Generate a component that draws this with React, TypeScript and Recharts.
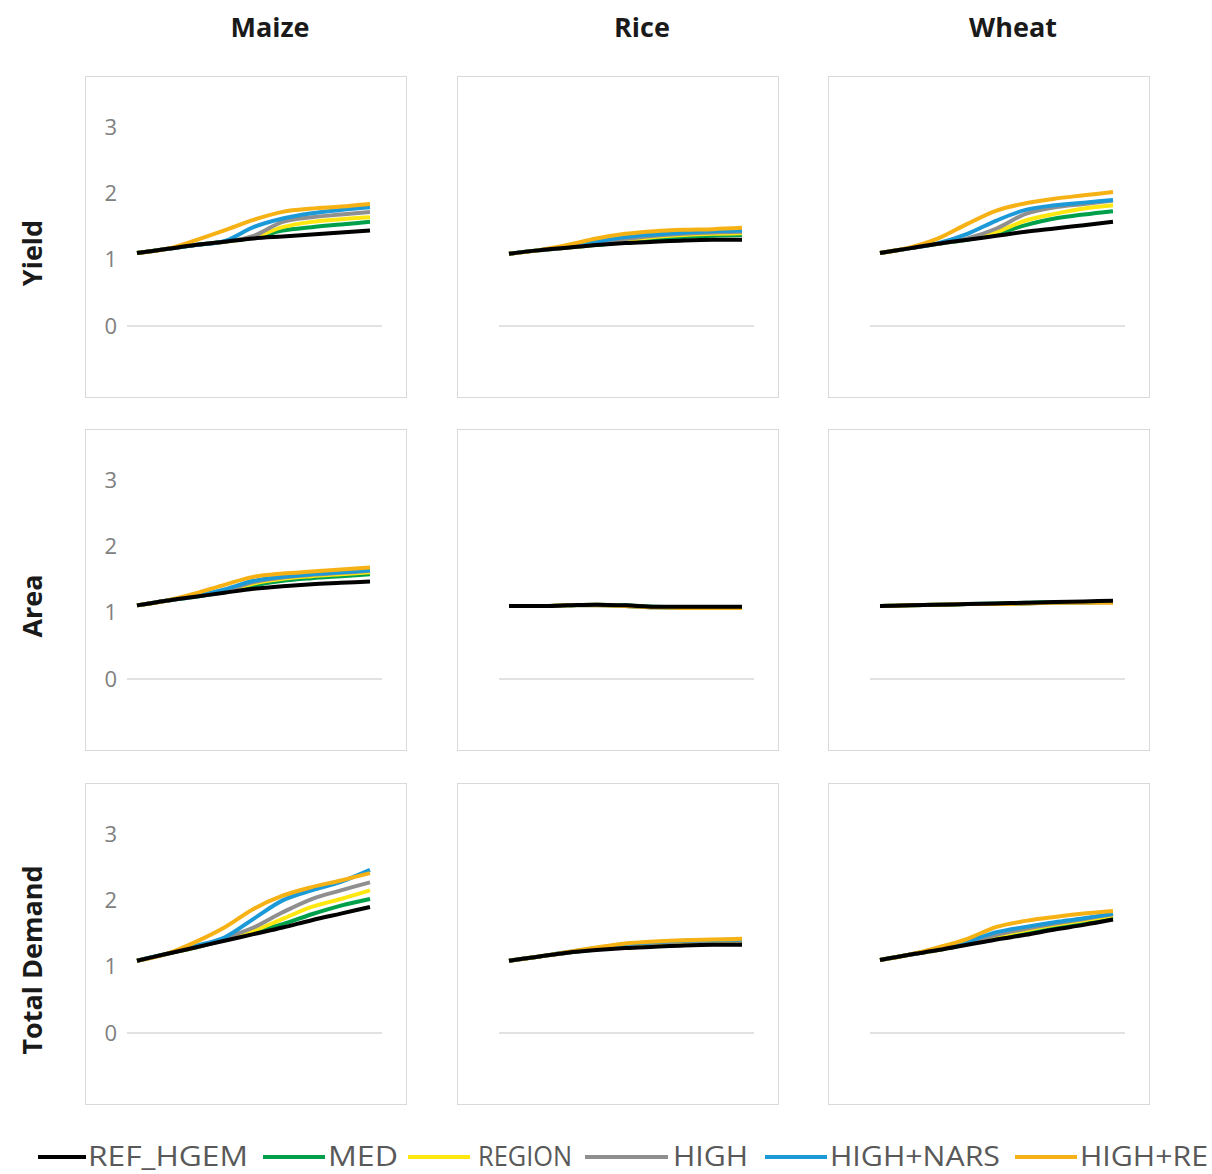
import { Line, LineChart, ReferenceLine, XAxis, YAxis } from "recharts";

const YEARS = ["2010", "2015", "2020", "2025", "2030", "2035", "2040", "2045", "2050"];
const SERIES = ["REF_HGEM", "MED", "REGION", "HIGH", "HIGH+NARS", "HIGH+RE"];
const CROPS = ["Maize", "Rice", "Wheat"];
const MEASURES = ["Yield", "Area", "Total Demand"];

// values are indices, one array per scenario
const maizeYield = {
  REF_HGEM: [1.1, 1.16, 1.22, 1.27, 1.32, 1.35, 1.38, 1.41, 1.44],
  MED: [1.1, 1.16, 1.22, 1.27, 1.33, 1.44, 1.49, 1.53, 1.57],
  REGION: [1.1, 1.16, 1.22, 1.27, 1.34, 1.49, 1.57, 1.61, 1.64],
  HIGH: [1.1, 1.16, 1.22, 1.27, 1.36, 1.57, 1.64, 1.68, 1.72],
  "HIGH+NARS": [1.1, 1.16, 1.22, 1.28, 1.49, 1.62, 1.7, 1.75, 1.79],
  "HIGH+RE": [1.1, 1.16, 1.29, 1.44, 1.6, 1.72, 1.77, 1.8, 1.84],
};
const riceYield = {
  REF_HGEM: [1.09, 1.14, 1.18, 1.22, 1.25, 1.27, 1.29, 1.3, 1.3],
  MED: [1.09, 1.14, 1.18, 1.22, 1.27, 1.31, 1.34, 1.36, 1.37],
  REGION: [1.09, 1.14, 1.18, 1.23, 1.29, 1.34, 1.37, 1.39, 1.4],
  HIGH: [1.09, 1.14, 1.18, 1.24, 1.31, 1.36, 1.39, 1.41, 1.42],
  "HIGH+NARS": [1.09, 1.14, 1.19, 1.27, 1.34, 1.38, 1.41, 1.43, 1.44],
  "HIGH+RE": [1.09, 1.14, 1.22, 1.32, 1.39, 1.43, 1.45, 1.46, 1.48],
};
const wheatYield = {
  REF_HGEM: [1.1, 1.17, 1.24, 1.3, 1.36, 1.42, 1.47, 1.52, 1.57],
  MED: [1.1, 1.17, 1.24, 1.3, 1.39, 1.52, 1.62, 1.68, 1.73],
  REGION: [1.1, 1.17, 1.24, 1.31, 1.42, 1.59, 1.69, 1.77, 1.82],
  HIGH: [1.1, 1.17, 1.24, 1.32, 1.47, 1.69, 1.79, 1.84, 1.89],
  "HIGH+NARS": [1.1, 1.17, 1.25, 1.39, 1.59, 1.75, 1.82, 1.86, 1.9],
  "HIGH+RE": [1.1, 1.18, 1.32, 1.54, 1.74, 1.85, 1.92, 1.97, 2.02],
};
const maizeArea = {
  REF_HGEM: [1.11, 1.18, 1.24, 1.3, 1.36, 1.4, 1.43, 1.45, 1.47],
  MED: [1.11, 1.18, 1.24, 1.31, 1.41, 1.48, 1.52, 1.55, 1.58],
  REGION: [1.11, 1.18, 1.25, 1.32, 1.44, 1.51, 1.55, 1.58, 1.61],
  HIGH: [1.11, 1.18, 1.25, 1.33, 1.46, 1.53, 1.57, 1.6, 1.63],
  "HIGH+NARS": [1.11, 1.18, 1.25, 1.35, 1.48, 1.54, 1.58, 1.61, 1.64],
  "HIGH+RE": [1.11, 1.18, 1.29, 1.42, 1.54, 1.59, 1.62, 1.65, 1.68],
};
const riceArea = {
  REF_HGEM: [1.1, 1.1, 1.11, 1.12, 1.11, 1.09, 1.09, 1.09, 1.09],
  MED: [1.1, 1.1, 1.11, 1.12, 1.11, 1.09, 1.08, 1.08, 1.08],
  REGION: [1.1, 1.1, 1.11, 1.12, 1.1, 1.08, 1.08, 1.08, 1.08],
  HIGH: [1.1, 1.1, 1.11, 1.12, 1.1, 1.08, 1.08, 1.08, 1.08],
  "HIGH+NARS": [1.1, 1.1, 1.11, 1.11, 1.1, 1.08, 1.07, 1.07, 1.07],
  "HIGH+RE": [1.1, 1.1, 1.11, 1.11, 1.1, 1.08, 1.07, 1.07, 1.07],
};
const wheatArea = {
  REF_HGEM: [1.1, 1.11, 1.12, 1.13, 1.14, 1.15, 1.16, 1.17, 1.18],
  MED: [1.1, 1.11, 1.12, 1.13, 1.14, 1.15, 1.16, 1.16, 1.17],
  REGION: [1.1, 1.11, 1.12, 1.13, 1.13, 1.14, 1.15, 1.16, 1.16],
  HIGH: [1.1, 1.11, 1.12, 1.13, 1.13, 1.14, 1.15, 1.16, 1.16],
  "HIGH+NARS": [1.1, 1.11, 1.12, 1.13, 1.13, 1.14, 1.15, 1.15, 1.16],
  "HIGH+RE": [1.1, 1.11, 1.12, 1.13, 1.13, 1.14, 1.15, 1.15, 1.15],
};
const maizeDemand = {
  REF_HGEM: [1.09, 1.19, 1.29, 1.39, 1.49, 1.59, 1.7, 1.8, 1.9],
  MED: [1.09, 1.19, 1.29, 1.4, 1.52, 1.64, 1.79, 1.92, 2.02],
  REGION: [1.09, 1.19, 1.29, 1.41, 1.54, 1.72, 1.9, 2.02, 2.15],
  HIGH: [1.09, 1.19, 1.3, 1.43, 1.59, 1.82, 2.02, 2.15, 2.27],
  "HIGH+NARS": [1.09, 1.19, 1.31, 1.44, 1.72, 2.0, 2.15, 2.28, 2.46],
  "HIGH+RE": [1.09, 1.19, 1.37, 1.59, 1.87, 2.07, 2.2, 2.3, 2.41],
};
const riceDemand = {
  REF_HGEM: [1.09, 1.15, 1.21, 1.25, 1.28, 1.3, 1.32, 1.33, 1.33],
  MED: [1.09, 1.15, 1.21, 1.26, 1.3, 1.33, 1.35, 1.36, 1.36],
  REGION: [1.09, 1.15, 1.21, 1.27, 1.32, 1.35, 1.37, 1.38, 1.38],
  HIGH: [1.09, 1.15, 1.21, 1.27, 1.33, 1.36, 1.38, 1.39, 1.39],
  "HIGH+NARS": [1.09, 1.15, 1.22, 1.28, 1.34, 1.37, 1.39, 1.4, 1.41],
  "HIGH+RE": [1.09, 1.15, 1.22, 1.29, 1.35, 1.38, 1.4, 1.41, 1.42],
};
const wheatDemand = {
  REF_HGEM: [1.1, 1.18, 1.25, 1.33, 1.41, 1.48, 1.56, 1.63, 1.71],
  MED: [1.1, 1.18, 1.25, 1.34, 1.44, 1.52, 1.6, 1.67, 1.75],
  REGION: [1.1, 1.18, 1.25, 1.35, 1.46, 1.55, 1.63, 1.7, 1.77],
  HIGH: [1.1, 1.18, 1.26, 1.36, 1.48, 1.57, 1.65, 1.72, 1.79],
  "HIGH+NARS": [1.1, 1.18, 1.27, 1.38, 1.52, 1.6, 1.67, 1.73, 1.8],
  "HIGH+RE": [1.1, 1.18, 1.29, 1.42, 1.6, 1.69, 1.75, 1.8, 1.84],
};

const PANELS = [
  [maizeYield, riceYield, wheatYield],
  [maizeArea, riceArea, wheatArea],
  [maizeDemand, riceDemand, wheatDemand],
];

const COLORS: Record<string, string> = {
  REF_HGEM: "#000000",
  MED: "#00a04b",
  REGION: "#ffe70f",
  HIGH: "#8f8f8f",
  "HIGH+NARS": "#1c9ad8",
  "HIGH+RE": "#f6b114",
};
// black reference line sits on top of the others
const DRAW_ORDER = ["MED", "REGION", "HIGH", "HIGH+NARS", "HIGH+RE", "REF_HGEM"];

const COL_LEFT = [85, 457, 828];
const ROW_TOP = [76, 429, 783];
const BOX = 322;
const FONT = "'Open Sans', sans-serif";

function Panel({ values, showTicks }: { values: Record<string, number[]>; showTicks: boolean }) {
  const rows = YEARS.map((year, i) => {
    const row: Record<string, string | number> = { year };
    SERIES.forEach((s) => (row[s] = values[s][i]));
    return row;
  });
  return (
    <LineChart width={320} height={320} data={rows} margin={{ top: 50, right: 24, bottom: 71, left: 0 }}>
      <XAxis dataKey="year" hide padding={{ left: 10, right: 12 }} />
      <YAxis
        domain={[0, 3]}
        ticks={[0, 1, 2, 3]}
        width={41}
        axisLine={false}
        tickLine={false}
        tickSize={0}
        tickMargin={10}
        tick={showTicks ? { fill: "#808080", fontSize: 22, fontFamily: FONT } : false}
      />
      <ReferenceLine y={0} stroke="#d9d9d9" strokeWidth={1.5} />
      {DRAW_ORDER.map((s) => (
        <Line
          key={s}
          dataKey={s}
          type="monotone"
          stroke={COLORS[s]}
          strokeWidth={4}
          dot={false}
          isAnimationActive={false}
        />
      ))}
    </LineChart>
  );
}

const LEGEND_X = [
  { line: [38, 86], text: [88, 160] },
  { line: [263, 325], text: [328, 70] },
  { line: [408, 470], text: [478, 94] },
  { line: [585, 668], text: [673, 75] },
  { line: [765, 827], text: [830, 170] },
  { line: [1015, 1077], text: [1080, 128] },
];

export default function App() {
  return (
    <div style={{ position: "absolute", left: 0, top: 0, width: 1212, height: 1174, background: "#fff", fontFamily: FONT }}>
      {CROPS.map((c, j) => (
        <div
          key={c}
          style={{
            position: "absolute",
            left: COL_LEFT[j] + BOX / 2 + 24,
            top: 8,
            transform: "translateX(-50%)",
            fontWeight: 700,
            fontSize: 27,
            color: "#1a1a1a",
          }}
        >
          {c}
        </div>
      ))}
      {MEASURES.map((m, i) => (
        <div
          key={m}
          style={{
            position: "absolute",
            left: 31,
            top: ROW_TOP[i] + BOX / 2 + 16,
            transform: "translate(-50%, -50%) rotate(-90deg)",
            whiteSpace: "nowrap",
            fontWeight: 700,
            fontSize: 27,
            color: "#1a1a1a",
          }}
        >
          {m}
        </div>
      ))}
      {PANELS.map((row, i) =>
        row.map((values, j) => (
          <div
            key={`${i}-${j}`}
            style={{
              position: "absolute",
              left: COL_LEFT[j],
              top: ROW_TOP[i],
              width: BOX,
              height: BOX,
              boxSizing: "border-box",
              border: "1px solid #d9d9d9",
            }}
          >
            <Panel values={values} showTicks={j === 0} />
          </div>
        ))
      )}
      <svg style={{ position: "absolute", left: 0, top: 1124 }} width={1212} height={50}>
        {SERIES.map((s, k) => (
          <g key={s}>
            <line
              x1={LEGEND_X[k].line[0]}
              x2={LEGEND_X[k].line[1]}
              y1={33}
              y2={33}
              stroke={COLORS[s]}
              strokeWidth={4}
            />
            <text
              x={LEGEND_X[k].text[0]}
              y={42}
              fontSize={28}
              fill="#595959"
              fontFamily={FONT}
              textLength={LEGEND_X[k].text[1]}
              lengthAdjust="spacingAndGlyphs"
            >
              {s}
            </text>
          </g>
        ))}
      </svg>
    </div>
  );
}
